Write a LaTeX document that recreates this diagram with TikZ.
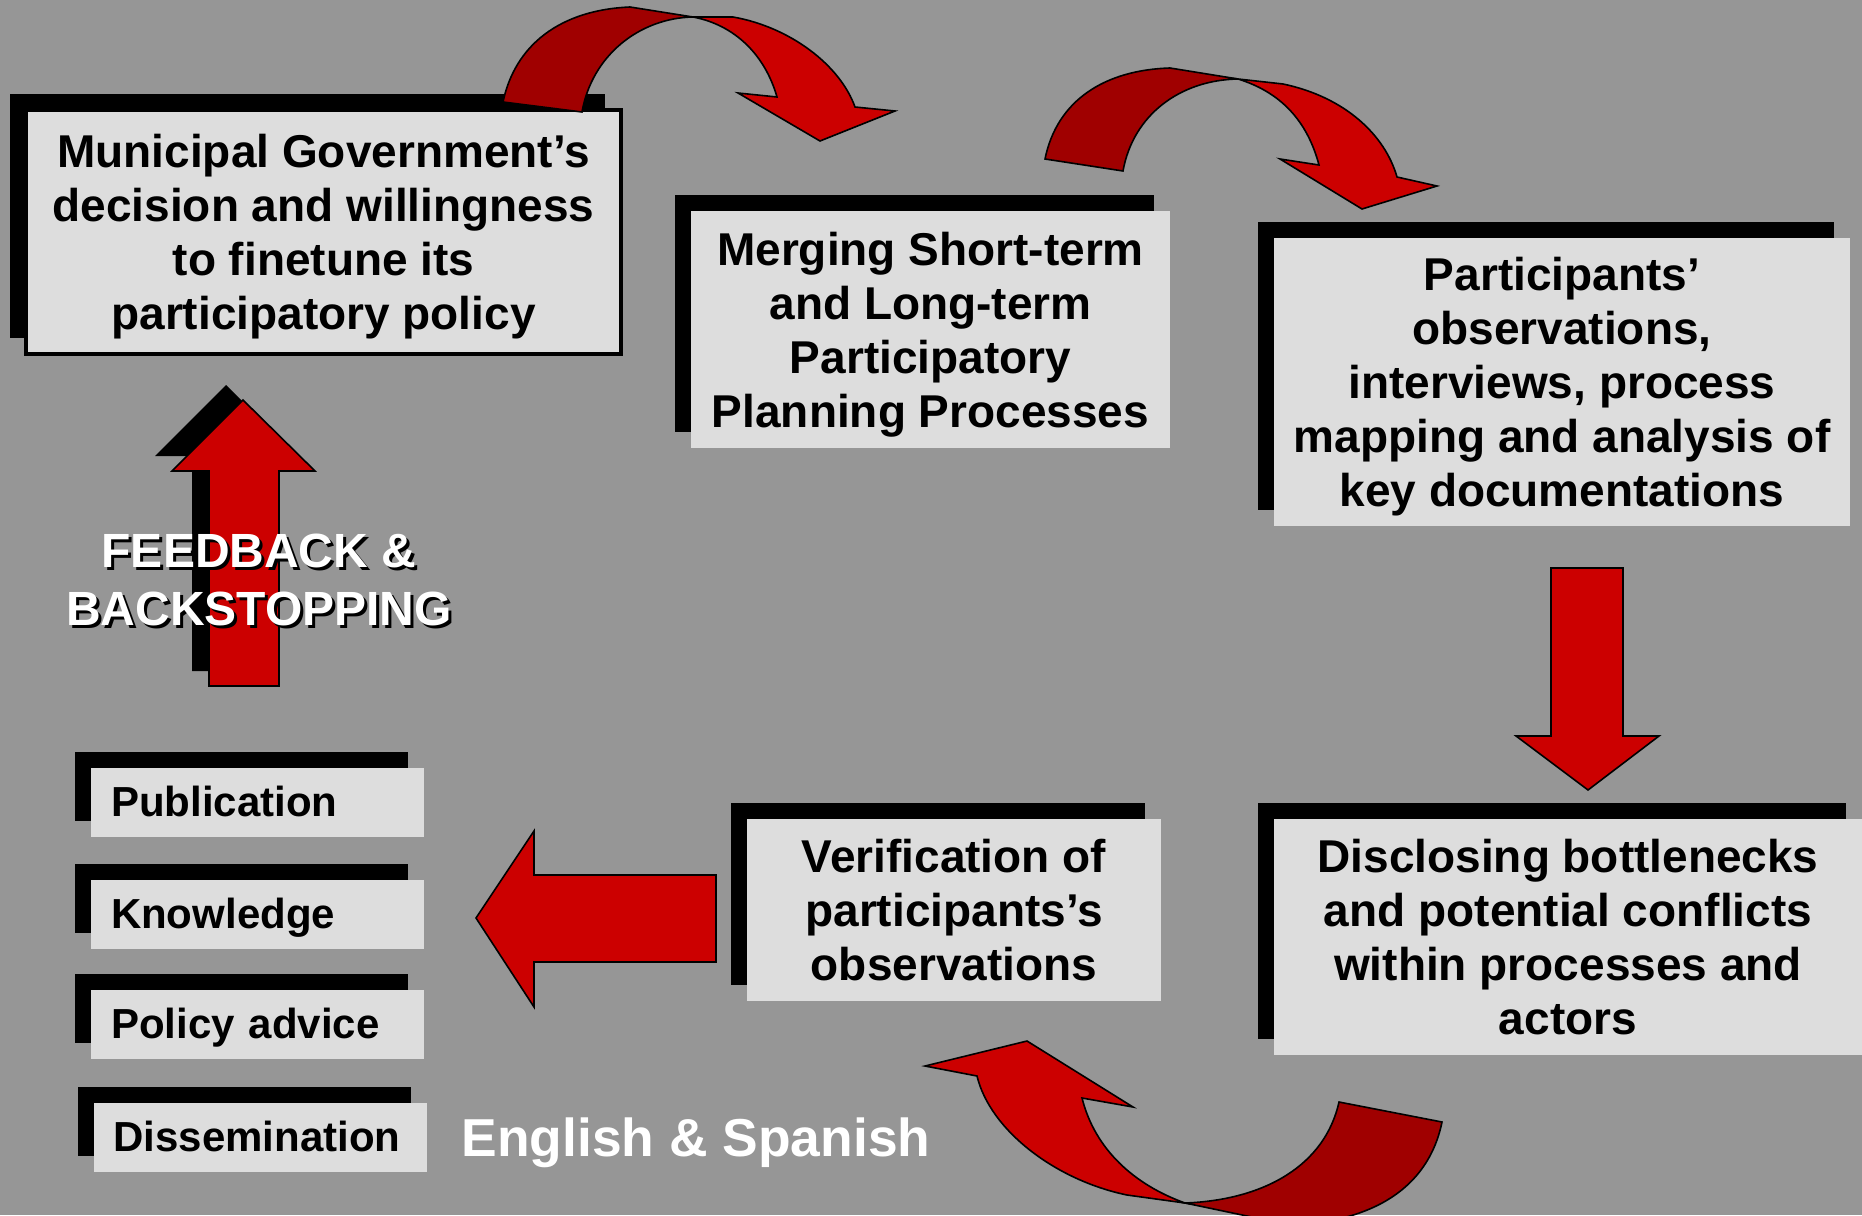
\documentclass[tikz,border=0pt]{standalone}
\usepackage{fontspec}
\setmainfont{Liberation Sans}
\usetikzlibrary{shadows}
\definecolor{bggray}{RGB}{150,150,150}
\definecolor{boxgray}{RGB}{221,221,221}
\definecolor{arrowred}{RGB}{204,0,0}
\definecolor{darkred}{RGB}{160,0,0}

\begin{document}
\begin{tikzpicture}
[ x=0.5pt, y=-0.5pt,
box/.style={rectangle, fill=boxgray, align=center, inner sep=0pt, text depth=0pt,
 font=\fontsize{23}{27}\selectfont\bfseries,
 drop shadow={shadow xshift=-8pt, shadow yshift=8pt, fill=black, opacity=1}},
tag/.style={box, align=left, inner xsep=10pt, text width=146.5pt,
 text height=14pt, minimum height=34.5pt, font=\fontsize{21}{25}\selectfont\bfseries},
bigarrow/.style={fill=arrowred, draw=black, line width=0.8pt},
backside/.style={fill=darkred, draw=black, line width=0.8pt},
caption/.style={align=center, font=\fontsize{24}{29}\selectfont\bfseries},
]
\useasboundingbox (0,0) rectangle (1862,1215);
\clip (0,0) rectangle (1862,1215);
\fill[bggray] (0,0) rectangle (1862,1215);

% boxes
\node (govt) [box, draw=black, line width=2pt, minimum width=297.5pt,
 minimum height=122pt] at (323.5,232)
 {Municipal Government’s\\decision and willingness\\to finetune its\\participatory policy};
\node (merge) [box, minimum width=239.5pt, minimum height=118.5pt] at (930.5,329.5)
 {Merging Short-term\\and Long-term\\Participatory\\Planning Processes};
\node (observe) [box, minimum width=288pt, minimum height=144pt] at (1562,382)
 {Participants’\\observations,\\interviews, process\\mapping and analysis of\\key documentations};
\node (disclose) [box, minimum width=294pt, minimum height=118pt] at (1568,937)
 {Disclosing bottlenecks\\and potential conflicts\\within processes and\\actors};
\node (verify) [box, minimum width=207pt, minimum height=91pt] at (954,910)
 {Verification of\\participants’s\\observations};

% outputs
\node (pub) [tag] at (257.5,802.5) {Publication};
\node (know) [tag] at (257.5,914.5) {Knowledge};
\node (policy) [tag] at (257.5,1024) {Policy advice};
\node (dissem) [tag] at (260,1137) {Dissemination};
\node (lang) [text=white, font=\fontsize{26.7}{31}\selectfont\bfseries] at (696,1143)
 {English \& Spanish};

% straight arrows
\fill[black, shift={(-17,-15)}] (209,686) -- (209,471) -- (172,471) -- (243,400)
 -- (315,471) -- (279,471) -- (279,686) -- cycle;
\draw[bigarrow] (209,686) -- (209,471) -- (172,471) -- (243,400)
 -- (315,471) -- (279,471) -- (279,686) -- cycle;
\draw[bigarrow] (1551,568) -- (1623,568) -- (1623,736) -- (1659,736)
 -- (1588,790) -- (1516,736) -- (1551,736) -- cycle;
\draw[bigarrow] (716,875) -- (534,875) -- (534,831) -- (476,918)
 -- (534,1007) -- (534,962) -- (716,962) -- cycle;

% curved arrows
\draw[backside] (503,102) .. controls (515,45) and (560,10) .. (630,7) -- (693,17)
 .. controls (640,18) and (592,55) .. (582,112) -- cycle;
\draw[bigarrow] (693,17) -- (733,17) .. controls (790,27) and (840,65) .. (855,107)
 -- (895,111) -- (820,141) -- (738,93) -- (777,97)
 .. controls (765,55) and (735,25) .. (693,17) -- cycle;

\draw[backside] (1045,159) .. controls (1057,100) and (1105,70) .. (1170,68) -- (1238,79)
 .. controls (1180,80) and (1133,115) .. (1123,171) -- cycle;
\draw[bigarrow] (1238,79) -- (1283,84) .. controls (1345,97) and (1385,135) .. (1397,177)
 -- (1437,186) -- (1362,209) -- (1280,159) -- (1319,165)
 .. controls (1307,120) and (1280,92) .. (1238,79) -- cycle;

\draw[backside] (1442,1122) .. controls (1428,1190) and (1370,1222) .. (1290,1225)
 -- (1185,1203) .. controls (1265,1200) and (1325,1165) .. (1339,1102) -- cycle;
\draw[bigarrow] (1185,1203) -- (1127,1195) .. controls (1055,1180) and (990,1130) .. (977,1076)
 -- (925,1066) -- (1027,1041) -- (1133,1107) -- (1082,1098)
 .. controls (1095,1150) and (1135,1185) .. (1185,1203) -- cycle;

% feedback label
\node (fbshadow) [caption, text=black] at (262,583) {FEEDBACK \&\\BACKSTOPPING};
\node (feedback) [caption, text=white] at (259,580) {FEEDBACK \&\\BACKSTOPPING};
\end{tikzpicture}
\end{document}
